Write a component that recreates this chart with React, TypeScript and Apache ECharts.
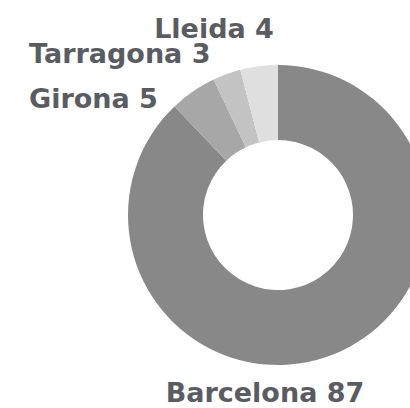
import React, { useEffect, useRef } from "react";
import * as echarts from "echarts";

const categories = ["Barcelona", "Girona", "Tarragona", "Lleida"];
const values = [87, 5, 3, 4];
const colors = ["#888888", "#a7a7a7", "#c3c3c3", "#dfdfdf"];
// label anchor positions (x, y, align) for each category
const labelPos: [number, number, string][] = [
  [265, 392, "center"],
  [29, 98, "left"],
  [29, 53, "left"],
  [214, 28, "center"],
];

export default function App() {
  const ref = useRef<HTMLDivElement>(null);
  useEffect(() => {
    const chart = echarts.init(ref.current!, null, { renderer: "svg" });
    chart.setOption({
      animation: false,
      series: [
        {
          type: "pie",
          center: [278, 215],
          radius: [75, 150],
          startAngle: 90,
          clockwise: true,
          silent: true,
          data: categories.map((c, i) => ({
            name: c,
            value: values[i],
            itemStyle: { color: colors[i] },
          })),
          label: {
            show: true,
            position: "outside",
            formatter: "{b} {c}",
            color: "#595d62",
            fontFamily: "DejaVu Sans",
            fontWeight: "bold",
            fontSize: 27,
            overflow: "none",
            width: 400,
          },
          labelLine: { show: false },
          labelLayout: (p: any) => {
            const [x, y, align] = labelPos[p.dataIndex];
            return { x, y, align, verticalAlign: "middle" };
          },
        },
      ],
    });
    return () => chart.dispose();
  }, []);
  return <div ref={ref} style={{ width: 410, height: 408, position: "absolute", left: 0, top: 0 }} />;
}
